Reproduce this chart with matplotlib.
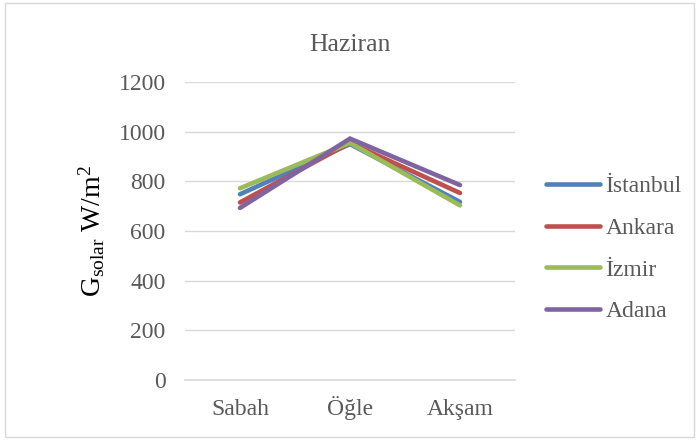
import numpy as np
from matplotlib import pyplot as plt

plt.rcParams['font.family'] = ['Liberation Serif', 'DejaVu Serif']
plt.rcParams['mathtext.fontset'] = 'custom'
plt.rcParams['mathtext.rm'] = 'Liberation Serif'
plt.rcParams['mathtext.it'] = 'Liberation Serif:italic'

# data
times = ['Sabah', 'Öğle', 'Akşam']
istanbul = [748, 950, 717]
ankara = [715, 955, 753]
izmir = [772, 955, 703]
adana = [693, 972, 785]

cities = ['İstanbul', 'Ankara', 'İzmir', 'Adana']
series = [istanbul, ankara, izmir, adana]
colors = ['#4F81BD', '#C0504D', '#9BBB59', '#8064A2']
yticks = [0, 200, 400, 600, 800, 1000, 1200]

textgray = '#595959'

fig = plt.figure(figsize=(6.99, 4.40), dpi=100)
ax = fig.add_axes([185/699, 1 - 380/440, 330/699, 298/440])

x = np.arange(len(times))
for vals, col, name in zip(series, colors, cities):
    ax.plot(x, vals, color=col, lw=3.3, solid_capstyle='round',
            solid_joinstyle='miter', label=name, zorder=3)

ax.set_xlim(-0.5, len(times) - 0.5)
ax.set_ylim(0, 1200)
ax.set_yticks(yticks)
ax.set_xticks(x)
ax.set_xticklabels(times, va='baseline')
ax.grid(axis='y', color='#D9D9D9', lw=1.0)
ax.set_axisbelow(True)
for s in ['top', 'right', 'left']:
    ax.spines[s].set_visible(False)
ax.spines['bottom'].set_color('#D9D9D9')
ax.spines['bottom'].set_linewidth(1.2)
ax.tick_params(axis='both', length=0, labelsize=17, labelcolor=textgray)
ax.tick_params(axis='y', pad=14)
ax.tick_params(axis='x', pad=25)

ax.set_title('Haziran', fontsize=18.5, color=textgray, pad=22)
ax.set_ylabel(r'G$_{\mathrm{solar}}$ W/m$^{2}$', fontsize=20, color='black',
              labelpad=8)

leg = fig.legend(loc='upper left', bbox_to_anchor=(537/699, 1 - 166/440),
                 frameon=False, fontsize=17, handlelength=2.25,
                 handletextpad=0.25, labelspacing=0.86, borderaxespad=0)
for t in leg.get_texts():
    t.set_color(textgray)

# outer chart border
border = plt.Rectangle((5/699, 3/440), 689/699, 434/440, transform=fig.transFigure,
                       fill=False, edgecolor='#D9D9D9', lw=1.0)
fig.patches.append(border)

plt.savefig('out.png', dpi=100)
